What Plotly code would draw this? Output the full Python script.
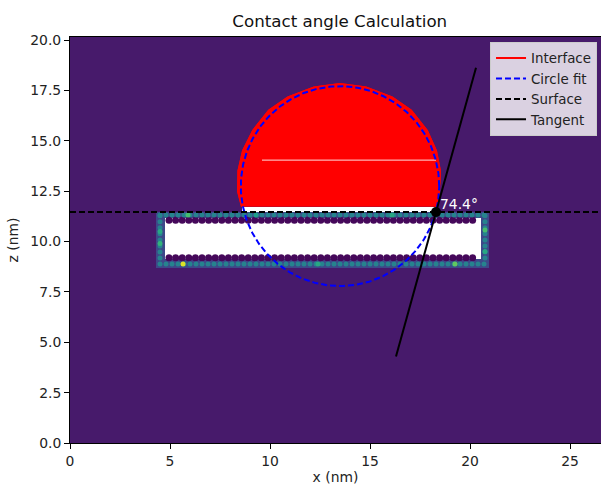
import numpy as np
import plotly.graph_objects as go

# ---- axis extents (nm) ----
x_max = 26.55
z_max = 20.15

# ---- density map: region edges and region values (viridis scale 0..1) ----
B, R, N = 0.07, 0.22, np.nan
density_x_edges = [0, 4.3, 4.75, 8.6, 18.35, 20.55, 20.95, x_max]
density_z_edges = [0, 8.68, 9.12, 11.15, 11.45, 11.73, z_max]
density_values = [
    [B, B, B, B, B, B, B],
    [B, R, R, R, R, R, B],
    [B, R, N, N, N, R, B],
    [B, R, R, R, R, R, B],
    [B, B, B, N, B, B, B],
    [B, B, B, B, B, B, B],
]

# ---- substrate outline (atom rows / columns) ----
substrate_x = [4.5, 20.75]
substrate_z = [8.88, 11.32]
atom_spacing = 0.3
atom_value = 0.45
bright_atom_x = [5.65, 5.9, 4.5, 4.5, 20.75, 19.25, 16.1, 12.4, 9.3, 20.75]
bright_atom_z = [8.88, 11.32, 9.9, 10.5, 10.57, 8.88, 11.32, 8.88, 11.32, 9.5]
bright_atom_value = [0.95, 0.7, 0.65, 0.6, 0.7, 0.75, 0.6, 0.6, 0.55, 0.6]
# low-density water layer hugging the inner faces of the slab
layer_x = [4.95, 20.35]
layer_z = [11.06, 9.2]
layer_spacing = 0.33
layer_value = 0.02

# ---- droplet interface (nm) ----
interface_x = [8.60, 8.40, 8.42, 8.65, 9.15, 9.95, 10.90, 12.20, 13.50,
               14.80, 16.10, 17.05, 17.85, 18.30, 18.50, 18.45, 18.30]
interface_z = [11.73, 12.50, 13.50, 14.50, 15.50, 16.50, 17.15, 17.65, 17.82,
               17.65, 17.15, 16.50, 15.50, 14.50, 13.50, 12.50, 11.73]
interface_seam_x = [9.6, 18.3]
interface_seam_z = [14.04, 14.04]

# ---- fit results ----
circle_center = (13.5, 12.75)
circle_radius = 4.96
surface_z = 11.46
contact_x = 18.3
contact_angle = 74.4
tangent_half_dx = 2.0

fig = go.Figure()

# density map
fig.add_trace(go.Heatmap(
    x=density_x_edges, y=density_z_edges, z=density_values,
    colorscale="Viridis", zmin=0, zmax=1, showscale=False,
    hoverinfo="skip", showlegend=False,
))

# inner water layer (dark blobs)
lx = np.arange(layer_x[0], layer_x[1] + 1e-9, layer_spacing)
blob_x = np.concatenate([lx, lx])
blob_z = np.concatenate([np.full(lx.size, layer_z[0]), np.full(lx.size, layer_z[1])])
fig.add_trace(go.Scatter(
    x=blob_x, y=blob_z, mode="markers",
    marker=dict(size=7, color=[layer_value] * blob_x.size, colorscale="Viridis",
                cmin=0, cmax=1, line=dict(width=0)),
    showlegend=False, hoverinfo="skip",
))

# substrate atoms around the slab perimeter
ax = np.arange(substrate_x[0], substrate_x[1] + 1e-9, atom_spacing)
az = np.arange(substrate_z[0] + atom_spacing, substrate_z[1] - 1e-9, atom_spacing)
atoms_x = np.concatenate([ax, ax, np.full(az.size, substrate_x[0]), np.full(az.size, substrate_x[1])])
atoms_z = np.concatenate([np.full(ax.size, substrate_z[0]), np.full(ax.size, substrate_z[1]), az, az])
fig.add_trace(go.Scatter(
    x=atoms_x, y=atoms_z, mode="markers",
    marker=dict(size=5, color=[atom_value] * atoms_x.size, colorscale="Viridis",
                cmin=0, cmax=1, line=dict(width=0)),
    showlegend=False, hoverinfo="skip",
))
fig.add_trace(go.Scatter(
    x=bright_atom_x, y=bright_atom_z, mode="markers",
    marker=dict(size=5, color=bright_atom_value, colorscale="Viridis",
                cmin=0, cmax=1, line=dict(width=0)),
    showlegend=False, hoverinfo="skip",
))

# droplet body and interface
fig.add_trace(go.Scatter(
    x=interface_x, y=interface_z, mode="lines", fill="toself",
    fillcolor="#ff0000", line=dict(color="#ff0000", width=2),
    showlegend=False, hoverinfo="skip",
))
fig.add_trace(go.Scatter(
    x=interface_x, y=interface_z, mode="lines",
    line=dict(color="#ff0000", width=2), name="Interface",
))
fig.add_trace(go.Scatter(
    x=interface_seam_x, y=interface_seam_z, mode="lines",
    line=dict(color="rgba(255,245,245,0.9)", width=1),
    showlegend=False, hoverinfo="skip",
))

# circle fit
theta = np.linspace(0, 2 * np.pi, 361)
fig.add_trace(go.Scatter(
    x=circle_center[0] + circle_radius * np.cos(theta),
    y=circle_center[1] + circle_radius * np.sin(theta),
    mode="lines", line=dict(color="#0000ff", width=2, dash="6px,3px"),
    name="Circle fit",
))

# surface
fig.add_trace(go.Scatter(
    x=[0, x_max], y=[surface_z, surface_z], mode="lines",
    line=dict(color="black", width=2, dash="6px,3px"), name="Surface",
))

# tangent at the contact point
slope = np.tan(np.radians(contact_angle))
fig.add_trace(go.Scatter(
    x=[contact_x - tangent_half_dx, contact_x + tangent_half_dx],
    y=[surface_z - slope * tangent_half_dx, surface_z + slope * tangent_half_dx],
    mode="lines", line=dict(color="black", width=2), name="Tangent",
))
fig.add_trace(go.Scatter(
    x=[contact_x], y=[surface_z], mode="markers",
    marker=dict(color="black", size=10), showlegend=False, hoverinfo="skip",
))

fig.add_annotation(
    x=contact_x + 0.1, y=surface_z - 0.1, text=f"{contact_angle:.1f}°",
    showarrow=False, xanchor="left", yanchor="bottom",
    font=dict(color="white", size=13.9, family="DejaVu Sans"),
)

axis_common = dict(
    showline=True, linecolor="black", linewidth=1,
    ticks="outside", ticklen=5, tickcolor="black", tickwidth=1,
    showgrid=False, zeroline=False,
    tickfont=dict(size=13.9, color="#222", family="DejaVu Sans"),
    title_font=dict(size=13.9, color="#222", family="DejaVu Sans"),
)

fig.update_layout(
    width=601, height=485,
    margin=dict(l=70, r=0, t=37, b=42),
    paper_bgcolor="white", plot_bgcolor="white",
    font=dict(family="DejaVu Sans", color="#222"),
    title=dict(text="Contact angle Calculation", x=0.508, xref="paper",
               xanchor="center", y=1 - 21 / 485, yref="container",
               yanchor="middle", font=dict(size=16.7, color="#111")),
    xaxis=dict(range=[0, x_max], tickvals=[0, 5, 10, 15, 20, 25],
               mirror=True, title=dict(text="x (nm)", standoff=6), **axis_common),
    yaxis=dict(range=[0, z_max], tickvals=[0, 2.5, 5, 7.5, 10, 12.5, 15, 17.5, 20],
               tickformat=".1f", title=dict(text="z (nm)", standoff=8), **axis_common),
    legend=dict(x=0.791, y=0.988, xanchor="left", yanchor="top",
                bgcolor="rgba(255,255,255,0.8)", bordercolor="#cccccc", borderwidth=1,
                font=dict(size=13.4, color="#222", family="DejaVu Sans"),
                tracegroupgap=0, itemwidth=30),
    showlegend=True,
)

fig.write_html("out.html")
